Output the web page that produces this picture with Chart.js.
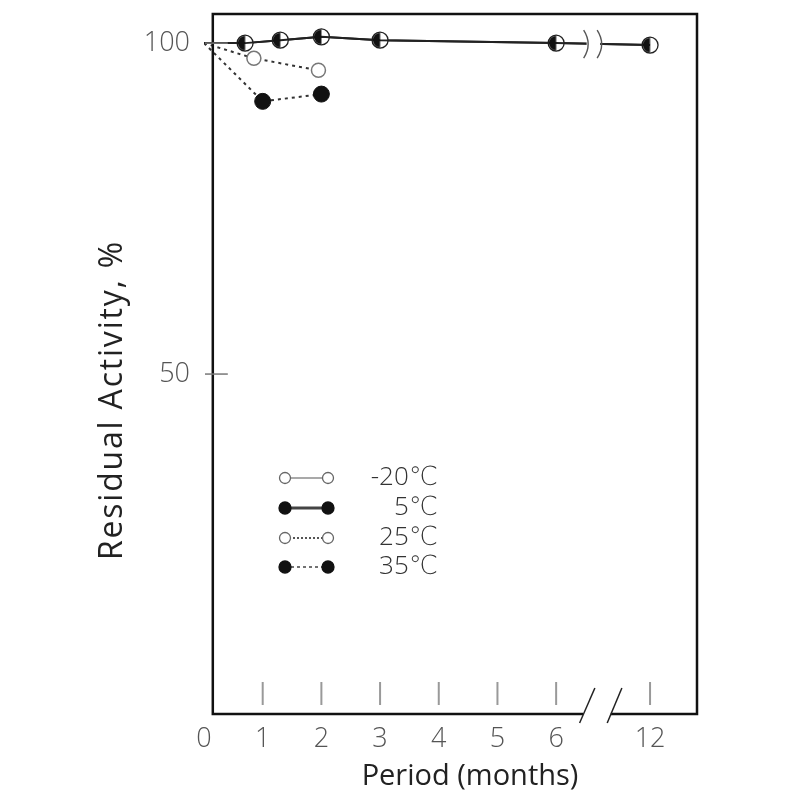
<!DOCTYPE html>
<html>
<head>
<meta charset="utf-8">
<script src="https://cdn.jsdelivr.net/npm/chart.js@4.4.1/dist/chart.umd.min.js"></script>
<style>
  html, body { margin: 0; padding: 0; background: #fff; }
  #wrap { width: 800px; height: 800px; }
</style>
</head>
<body>
<div id="wrap"><canvas id="stability"></canvas></div>
<script>
// storage period (months) and residual activity (%) per temperature
const months20 = [0, 0.7, 1.3, 2, 3, 6, 12];
const activity20 = [100, 100.0, 100.45, 100.95, 100.45, 100.0, 99.7];
const months5 = [0, 0.7, 1.3, 2, 3, 6, 12];
const activity5 = [100, 100.0, 100.45, 100.95, 100.45, 100.0, 99.7];
const months25 = [0, 0.85, 1.95];
const activity25 = [100, 97.7, 95.9];
const months35 = [0, 1, 2];
const activity35 = [100, 91.2, 92.3];

const seriesLabels = ['-20\u2103', '5\u2103', '25\u2103', '35\u2103'];
const xTickMonths = [0, 1, 2, 3, 4, 5, 6, 12];
const yTickValues = [50, 100];

// the time axis is cut between 6 and 12 months
const axisBreak = { from: 6, to: 12, gap: 1.6 };
const toAxis = m => (m <= axisBreak.from ? m : axisBreak.from + axisBreak.gap + (m - axisBreak.to));
const points = (ms, vs) => ms.map((m, i) => ({ x: toAxis(m), y: vs[i] }));
const noOrigin = (n, r) => Array.from({ length: n }, (_, i) => (i === 0 ? 0 : r));

const FONT = "'Open Sans', 'DejaVu Sans', sans-serif";

// left half black; the open circle of -20C shows under the right half
function halfDot(r) {
  const c = document.createElement('canvas');
  c.width = c.height = 2 * r + 2;
  const g = c.getContext('2d');
  g.fillStyle = '#111';
  g.beginPath();
  g.arc(r + 1, r + 1, r, Math.PI / 2, Math.PI * 1.5);
  g.closePath();
  g.fill();
  return c;
}

function dot(ctx, x, y, r, fill, stroke, lw) {
  ctx.beginPath();
  ctx.arc(x, y, r, 0, Math.PI * 2);
  ctx.fillStyle = fill;
  ctx.fill();
  if (stroke) {
    ctx.lineWidth = lw;
    ctx.strokeStyle = stroke;
    ctx.stroke();
  }
}

function line(ctx, x1, y1, x2, y2, color, lw, dash) {
  ctx.beginPath();
  ctx.setLineDash(dash || []);
  ctx.moveTo(x1, y1);
  ctx.lineTo(x2, y2);
  ctx.strokeStyle = color;
  ctx.lineWidth = lw;
  ctx.stroke();
  ctx.setLineDash([]);
}

const figureDecor = {
  id: 'figureDecor',
  afterDatasetsDraw(chart) {
    const { ctx, chartArea: a, scales: { x, y } } = chart;
    ctx.save();

    // break on the top curve
    const b1 = x.getPixelForValue(6.52), b2 = x.getPixelForValue(6.75);
    const yb = y.getPixelForValue(99.85);
    ctx.fillStyle = '#fff';
    ctx.fillRect(b1, yb - 4, b2 - b1, 8);
    ctx.strokeStyle = '#555';
    ctx.lineWidth = 1.4;
    [b1, b2].forEach(bx => {
      ctx.beginPath();
      ctx.moveTo(bx - 3, yb - 14);
      ctx.quadraticCurveTo(bx + 6, yb, bx - 3, yb + 14);
      ctx.stroke();
    });

    // frame with a gap on the broken axis
    const left = x.getPixelForValue(0.15);
    const g1 = x.getPixelForValue(6.46), g2 = x.getPixelForValue(6.93);
    ctx.strokeStyle = '#111';
    ctx.lineWidth = 2.5;
    ctx.beginPath();
    ctx.moveTo(g1, a.bottom);
    ctx.lineTo(left, a.bottom);
    ctx.lineTo(left, a.top);
    ctx.lineTo(a.right, a.top);
    ctx.lineTo(a.right, a.bottom);
    ctx.lineTo(g2, a.bottom);
    ctx.stroke();
    line(ctx, x.getPixelForValue(6.4), a.bottom + 9, x.getPixelForValue(6.66), a.bottom - 26, '#222', 1.5);
    line(ctx, x.getPixelForValue(6.87), a.bottom + 9, x.getPixelForValue(7.12), a.bottom - 26, '#222', 1.5);

    // inner tick marks
    xTickMonths.filter(m => m > 0).forEach(m => {
      const px = x.getPixelForValue(toAxis(m));
      line(ctx, px, a.bottom - 32, px, a.bottom - 9, '#999', 2);
    });
    yTickValues.forEach(v => {
      const py = y.getPixelForValue(v);
      line(ctx, a.left + 1, py, left + 15, py, '#777', 1.5);
    });

    // axis titles
    ctx.fillStyle = '#222';
    ctx.textAlign = 'center';
    ctx.textBaseline = 'middle';
    ctx.font = `400 29px ${FONT}`;
    ctx.fillText('Period (months)', 470, 777);
    ctx.save();
    ctx.translate(113, 400);
    ctx.rotate(-Math.PI / 2);
    ctx.font = `400 32px ${FONT}`;
    ctx.letterSpacing = '1.8px';
    ctx.fillText('Residual Activity, %', 0, 0);
    ctx.restore();

    // legend
    const rows = [478, 508, 538, 567];
    const lx1 = 285, lx2 = 328;
    const legendStyle = [
      { fill: '#fff', stroke: '#666', lw: 1.2, color: '#555', dash: [], r: 5.5 },
      { fill: '#111', stroke: '#111', lw: 3, color: '#444', dash: [], r: 6 },
      { fill: '#fff', stroke: '#666', lw: 2, color: '#555', dash: [2, 2], r: 5.5 },
      { fill: '#111', stroke: '#111', lw: 1.5, color: '#444', dash: [3, 3], r: 6 }
    ];
    seriesLabels.forEach((label, i) => {
      const s = legendStyle[i];
      const ry = rows[i];
      line(ctx, lx1, ry, lx2, ry, s.color, s.lw, s.dash);
      dot(ctx, lx1, ry, s.r, s.fill, s.stroke, 1.3);
      dot(ctx, lx2, ry, s.r, s.fill, s.stroke, 1.3);
      ctx.fillStyle = '#333';
      ctx.font = `300 26px ${FONT}`;
      ctx.textAlign = 'right';
      ctx.textBaseline = 'middle';
      ctx.fillText(label, 438, ry);
    });

    ctx.restore();
  }
};

new Chart(document.getElementById('stability'), {
  type: 'line',
  data: {
    datasets: [
      {
        label: seriesLabels[0],
        data: points(months20, activity20),
        order: 2,
        borderColor: '#222',
        borderWidth: 2,
        pointRadius: noOrigin(months20.length, 8),
        pointBackgroundColor: '#fff',
        pointBorderColor: '#222',
        pointBorderWidth: 1.3
      },
      {
        label: seriesLabels[1],
        data: points(months5, activity5),
        order: 1,
        borderColor: '#222',
        borderWidth: 2,
        pointStyle: halfDot(7.5),
        pointRadius: noOrigin(months5.length, 8)
      },
      {
        label: seriesLabels[2],
        data: points(months25, activity25),
        order: 3,
        borderColor: '#333',
        borderWidth: 2,
        borderDash: [3, 4],
        pointRadius: noOrigin(months25.length, 7),
        pointBackgroundColor: '#fff',
        pointBorderColor: '#777',
        pointBorderWidth: 1.5
      },
      {
        label: seriesLabels[3],
        data: points(months35, activity35),
        order: 4,
        borderColor: '#333',
        borderWidth: 2,
        borderDash: [3, 4],
        pointRadius: noOrigin(months35.length, 8),
        pointBackgroundColor: '#111',
        pointBorderColor: '#111',
        pointBorderWidth: 1
      }
    ]
  },
  options: {
    responsive: true,
    maintainAspectRatio: false,
    devicePixelRatio: 1,
    animation: false,
    layout: { padding: { left: 0, top: 14, right: 103, bottom: 0 } },
    plugins: { legend: { display: false }, tooltip: { enabled: false } },
    scales: {
      x: {
        type: 'linear',
        min: 0,
        max: 8.4,
        grid: { display: false, drawTicks: false },
        border: { display: false },
        afterBuildTicks: s => { s.ticks = xTickMonths.map(m => ({ value: toAxis(m) })); },
        afterFit: s => { s.height = 86; s.paddingLeft = 0; s.paddingRight = 0; },
        ticks: {
          autoSkip: false,
          maxRotation: 0,
          padding: 9,
          color: '#555',
          font: { family: FONT, size: 27, weight: 300 },
          callback: (v, i) => String(xTickMonths[i])
        }
      },
      y: {
        min: -1.36,
        max: 104.4,
        grid: { display: false, drawTicks: false },
        border: { display: false },
        afterBuildTicks: s => { s.ticks = yTickValues.map(v => ({ value: v })); },
        afterFit: s => { s.width = 204; s.paddingTop = 0; s.paddingBottom = 0; },
        ticks: {
          padding: 14,
          color: '#555',
          font: { family: FONT, size: 27, weight: 300 },
          callback: v => String(v)
        }
      }
    }
  },
  plugins: [figureDecor]
});
</script>
</body>
</html>
